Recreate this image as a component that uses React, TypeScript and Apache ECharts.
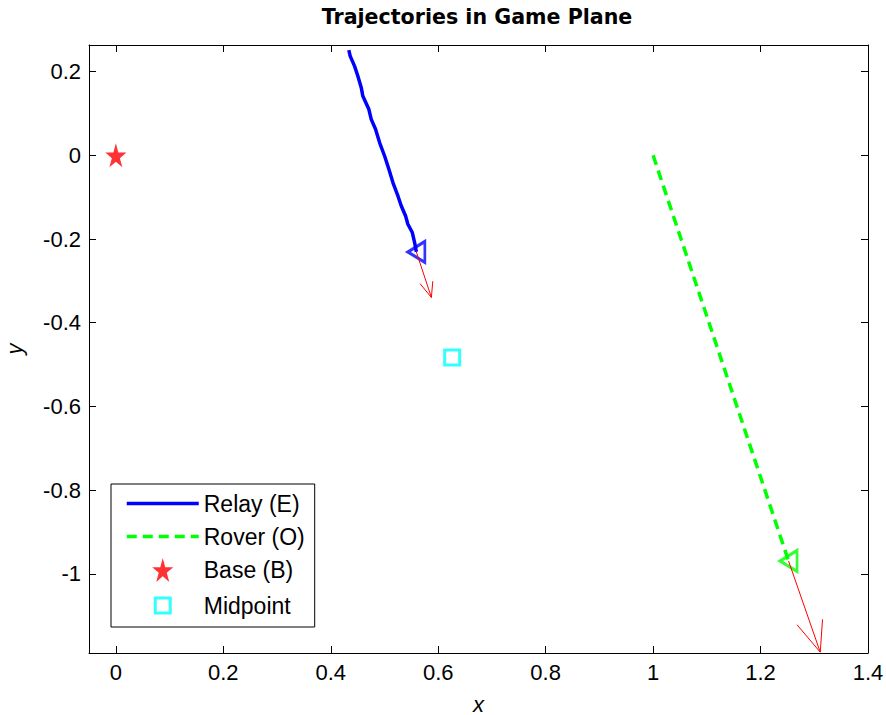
import React, { useEffect, useRef } from 'react';
import * as echarts from 'echarts';

const xTicks = [0, 0.2, 0.4, 0.6, 0.8, 1, 1.2, 1.4];
const yTicks = [-1, -0.8, -0.6, -0.4, -0.2, 0, 0.2];

const relayX = [0.4336, 0.4362, 0.4443, 0.4504, 0.4568, 0.4597, 0.4709, 0.4754, 0.4834, 0.4909, 0.5002, 0.5082, 0.5157, 0.525, 0.5313, 0.5393, 0.5436, 0.5518, 0.5561, 0.5593];
const relayY = [0.2513, 0.237, 0.2131, 0.1893, 0.1616, 0.1415, 0.1098, 0.0859, 0.0621, 0.0303, -0.0017, -0.0334, -0.0651, -0.0971, -0.121, -0.1449, -0.1647, -0.1845, -0.2084, -0.2308];

const roverX = [1.0, 1.2521];
const roverY = [0.0, -0.969];

const baseX = [0];
const baseY = [0];

const midX = [0.626];
const midY = [-0.483];

const arrowX = [0.5593, 1.2521];
const arrowY = [-0.2308, -0.969];
const arrowU = [0.028, 0.059];
const arrowV = [-0.1088, -0.218];

const FONT = 'Liberation Sans, Arial, Helvetica, sans-serif';
const STAR = 'path://M50,0 L61.23,41.46 L97.55,41.46 L68.17,67.08 L79.39,108.54 L50,82.92 L20.61,108.54 L31.83,67.08 L2.45,41.46 L38.77,41.46 Z';
const TRI_LEFT = 'path://M0,10.5 L17,0 L17,21 Z';
const SQUARE_PADDED = 'path://M0,0 M24,24 M4.5,4.5 L19.5,4.5 L19.5,19.5 L4.5,19.5 Z';
const HIDDEN = { color: 'rgba(0,0,0,0)', borderColor: 'rgba(0,0,0,0)', borderWidth: 0, opacity: 0 };

const fmt = (v: number) => String(Math.round(v * 10) / 10);

export default function App() {
  const ref = useRef<HTMLDivElement>(null);
  useEffect(() => {
    const chart = echarts.init(ref.current!, null, { renderer: 'svg' });
    const lastR = relayX.length - 1;
    const lastO = roverX.length - 1;
    const axisCommon = {
      type: 'value',
      axisLine: { show: true, onZero: false, lineStyle: { color: '#000', width: 1 } },
      splitLine: { show: false },
    };
    const option: any = {
      animation: false,
      backgroundColor: '#fff',
      title: {
        text: 'Trajectories in Game Plane',
        left: 477,
        textAlign: 'center',
        top: 6,
        padding: 0,
        textStyle: { fontFamily: 'DejaVu Sans, Liberation Sans, sans-serif', fontWeight: 'bold', fontSize: 20.6, color: '#000' },
      },
      grid: { left: 89, right: 18, top: 45, bottom: 62, containLabel: false, outerBoundsMode: 'none' },
      xAxis: [
        {
          ...axisCommon,
          position: 'bottom',
          min: -0.05,
          max: 1.4,
          axisTick: { show: true, inside: true, length: 7, customValues: xTicks, lineStyle: { color: '#000' } },
          axisLabel: { customValues: xTicks, formatter: fmt, fontSize: 22, color: '#000', margin: 8, fontFamily: FONT },
          name: 'x',
          nameLocation: 'middle',
          nameGap: 40,
          nameTextStyle: { fontStyle: 'italic', fontSize: 22, color: '#000', fontFamily: FONT },
        },
        {
          ...axisCommon,
          position: 'top',
          min: -0.05,
          max: 1.4,
          axisTick: { show: true, inside: true, length: 7, customValues: xTicks, lineStyle: { color: '#000' } },
          axisLabel: { show: false },
        },
      ],
      yAxis: [
        {
          ...axisCommon,
          position: 'left',
          min: -1.189,
          max: 0.2635,
          axisTick: { show: true, inside: true, length: 7, customValues: yTicks, lineStyle: { color: '#000' } },
          axisLabel: { customValues: yTicks, formatter: fmt, fontSize: 22, color: '#000', margin: 8, fontFamily: FONT },
          name: 'y',
          nameLocation: 'middle',
          nameGap: 64,
          nameTextStyle: { fontStyle: 'italic', fontSize: 22, color: '#000', fontFamily: FONT },
        },
        {
          ...axisCommon,
          position: 'right',
          min: -1.189,
          max: 0.2635,
          axisTick: { show: true, inside: true, length: 7, customValues: yTicks, lineStyle: { color: '#000' } },
          axisLabel: { show: false },
        },
      ],
      legend: {
        orient: 'vertical',
        left: 111,
        top: 484,
        padding: [8, 10, 8, 14],
        itemWidth: 72,
        itemHeight: 24,
        itemGap: 10,
        itemTextGap: 12,
        borderColor: '#000',
        borderWidth: 1,
        backgroundColor: '#fff',
        textStyle: { fontSize: 23, color: '#000', fontFamily: FONT },
        data: [
          { name: 'Relay (E)', itemStyle: HIDDEN, lineStyle: { color: '#0000ff', width: 3.5, type: 'solid' } },
          { name: 'Rover (O)', itemStyle: HIDDEN, lineStyle: { color: '#00ff00', width: 3.5, type: [10, 6] } },
          { name: 'Base (B)', icon: STAR, itemStyle: { color: '#ff0000' } },
          { name: 'Midpoint', icon: SQUARE_PADDED, itemStyle: { color: 'transparent', borderColor: '#00ffff', borderWidth: 3 } },
        ],
      },
      series: [
        {
          name: 'Relay (E)',
          type: 'line',
          symbol: 'none',
          data: relayX.map((x, i) => [x, relayY[i]]),
          lineStyle: { color: '#0000ff', width: 3.5 },
          itemStyle: { color: '#0000ff' },
          z: 3,
        },
        {
          name: 'Rover (O)',
          type: 'line',
          symbol: 'none',
          data: roverX.map((x, i) => [x, roverY[i]]),
          lineStyle: { color: '#00ff00', width: 3.5, type: [10, 6] },
          itemStyle: { color: '#00ff00' },
          z: 3,
        },
        {
          name: 'Base (B)',
          type: 'scatter',
          symbol: STAR,
          symbolSize: [21, 24],
          data: baseX.map((x, i) => [x, baseY[i]]),
          itemStyle: { color: '#ff0000' },
          z: 4,
        },
        {
          name: 'Midpoint',
          type: 'scatter',
          symbol: 'rect',
          symbolSize: 15,
          data: midX.map((x, i) => [x, midY[i]]),
          itemStyle: { color: 'transparent', borderColor: '#00ffff', borderWidth: 3 },
          z: 4,
        },
        {
          name: 'relayEnd',
          type: 'scatter',
          symbol: TRI_LEFT,
          symbolSize: [17, 21],
          data: [[relayX[lastR], relayY[lastR]]],
          itemStyle: { color: 'transparent', borderColor: '#0000ff', borderWidth: 3 },
          z: 4,
        },
        {
          name: 'roverEnd',
          type: 'scatter',
          symbol: TRI_LEFT,
          symbolSize: [17, 21],
          data: [[roverX[lastO], roverY[lastO]]],
          itemStyle: { color: 'transparent', borderColor: '#00ff00', borderWidth: 3 },
          z: 4,
        },
        {
          name: 'velocity',
          type: 'custom',
          clip: false,
          encode: { x: 0, y: 1 },
          data: arrowX.map((x, i) => [x, arrowY[i], arrowU[i], arrowV[i]]),
          renderItem: (params: any, api: any) => {
            const x = api.value(0);
            const y = api.value(1);
            const u = api.value(2);
            const v = api.value(3);
            const a = 0.33;
            const b = 0.33;
            const tx = x + u;
            const ty = y + v;
            const h1 = [tx - a * (u + b * v), ty - a * (v - b * u)];
            const h2 = [tx - a * (u - b * v), ty - a * (v + b * u)];
            const st = { stroke: '#ff0000', lineWidth: 1, fill: null };
            return {
              type: 'group',
              children: [
                { type: 'polyline', shape: { points: [api.coord([x, y]), api.coord([tx, ty])] }, style: st },
                { type: 'polyline', shape: { points: [api.coord(h1), api.coord([tx, ty]), api.coord(h2)] }, style: st },
              ],
            };
          },
          z: 5,
        },
      ],
    };
    chart.setOption(option);
    return () => chart.dispose();
  }, []);
  return (
    <div
      ref={ref}
      style={{ position: 'fixed', left: 0, top: 0, width: 886, height: 715, background: '#fff' }}
    />
  );
}
